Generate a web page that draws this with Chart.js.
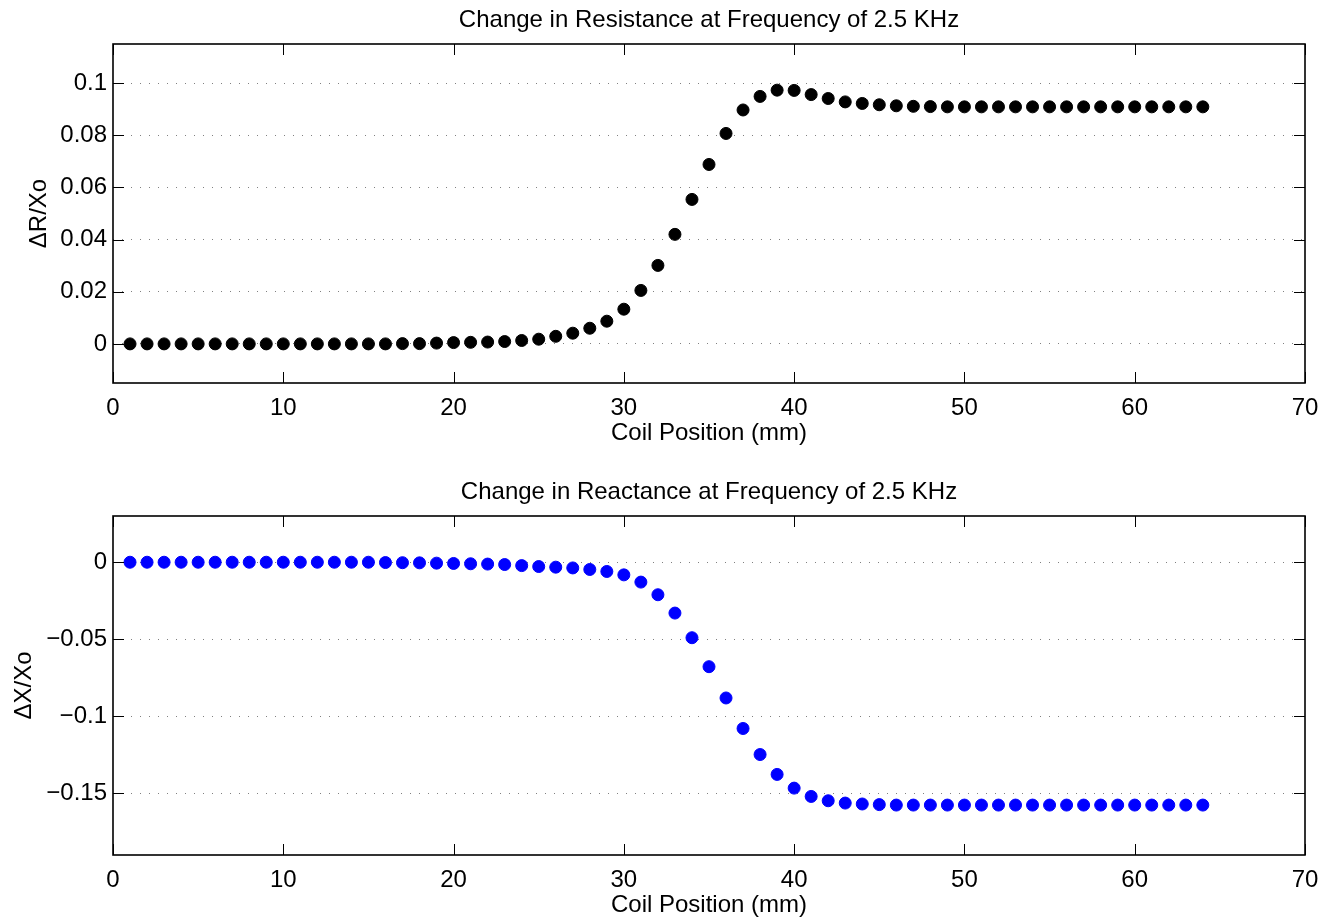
<!DOCTYPE html>
<html>
<head>
<meta charset="utf-8">
<script src="https://cdn.jsdelivr.net/npm/chart.js@4.4.1/dist/chart.umd.min.js"></script>
<style>
  html, body { margin: 0; background: #fff; overflow: hidden; }
  .panel { position: absolute; left: 0; width: 1333px; height: 452px; }
</style>
</head>
<body>
<div class="panel" style="top:0"><canvas id="resChart" width="1333" height="452"></canvas></div>
<div class="panel" style="top:472px"><canvas id="reaChart" width="1333" height="452"></canvas></div>
<script>
// coil positions (mm)
const positions = [1, 2, 3, 4, 5, 6, 7, 8, 9, 10, 11, 12, 13, 14, 15, 16,
  17, 18, 19, 20, 21, 22, 23, 24, 25, 26, 27, 28, 29, 30, 31, 32,
  33, 34, 35, 36, 37, 38, 39, 40, 41, 42, 43, 44, 45, 46, 47, 48,
  49, 50, 51, 52, 53, 54, 55, 56, 57, 58, 59, 60, 61, 62, 63, 64];

// ΔR/Xo
const resistance = [0, 0, 0, 0, 0, 0, 0, 0, 0, 0, 0, 0, 0, 0, 0, 0,
  0.0001, 0.0001, 0.0003, 0.0005, 0.0006, 0.0007, 0.0009, 0.0013,
  0.0018, 0.0029, 0.0041, 0.0060, 0.0087, 0.0133, 0.0205, 0.0301,
  0.0420, 0.0554, 0.0688, 0.0807, 0.0897, 0.0949, 0.0973, 0.0972,
  0.0956, 0.0941, 0.0928, 0.0922, 0.0917, 0.0913, 0.0911, 0.0910,
  0.0909, 0.0909, 0.0909, 0.0909, 0.0909, 0.0909, 0.0909, 0.0909,
  0.0909, 0.0909, 0.0909, 0.0909, 0.0909, 0.0909, 0.0909, 0.0909];

// ΔX/Xo
const reactance = [0, 0, 0, 0, 0, 0, 0, 0, 0, 0, 0, 0, 0, 0, 0, -0.0002,
  -0.0003, -0.0004, -0.0006, -0.0008, -0.0010, -0.0012, -0.0015, -0.0022,
  -0.0028, -0.0032, -0.0037, -0.0047, -0.0060, -0.0082, -0.0129, -0.0211,
  -0.0330, -0.0490, -0.0678, -0.0881, -0.1079, -0.1248, -0.1377, -0.1466,
  -0.1520, -0.1548, -0.1563, -0.1569, -0.1573, -0.1576, -0.1576, -0.1576,
  -0.1576, -0.1576, -0.1576, -0.1576, -0.1576, -0.1576, -0.1576, -0.1576,
  -0.1576, -0.1576, -0.1576, -0.1576, -0.1576, -0.1576, -0.1576, -0.1576];

const xTicks = [0, 10, 20, 30, 40, 50, 60, 70];
const resTicks = [0, 0.02, 0.04, 0.06, 0.08, 0.1];
const reaTicks = [-0.15, -0.1, -0.05, 0];

const FONT = { family: "'Liberation Sans', Arial, Helvetica, sans-serif", size: 24 };

// MATLAB-ish box with inward tick marks on all four sides
const boxTicks = {
  id: 'boxTicks',
  afterDatasetsDraw(chart) {
    const { ctx, chartArea: a, scales } = chart;
    const len = 11;
    ctx.save();
    ctx.strokeStyle = '#000';
    ctx.lineWidth = 1;
    ctx.beginPath();
    scales.x.ticks.forEach(t => {
      const px = Math.round(scales.x.getPixelForValue(t.value)) + 0.5;
      ctx.moveTo(px, a.bottom); ctx.lineTo(px, a.bottom - len);
      ctx.moveTo(px, a.top); ctx.lineTo(px, a.top + len);
    });
    scales.y.ticks.forEach(t => {
      const py = Math.round(scales.y.getPixelForValue(t.value)) + 0.5;
      ctx.moveTo(a.left, py); ctx.lineTo(a.left + len, py);
      ctx.moveTo(a.right, py); ctx.lineTo(a.right - len, py);
    });
    ctx.stroke();
    ctx.lineWidth = 1.6;
    ctx.strokeRect(a.left, a.top, a.right - a.left, a.bottom - a.top);
    ctx.restore();
  }
};

const fmt = v => String(v).replace('-', '\u2212');

function makeChart(id, values, color, yTicks, yMin, yMax, title, yTitle, yTitlePad) {
  return new Chart(document.getElementById(id), {
    type: 'scatter',
    data: {
      datasets: [{
        data: positions.map((p, i) => ({ x: p, y: values[i] })),
        backgroundColor: color,
        borderColor: color,
        pointRadius: 6,
        pointBorderWidth: 1,
        pointHoverRadius: 6
      }]
    },
    options: {
      responsive: false,
      animation: false,
      devicePixelRatio: 1,
      layout: { padding: { left: 0, right: 28, top: 0, bottom: 0 } },
      plugins: { legend: { display: false }, tooltip: { enabled: false } },
      scales: {
        x: {
          type: 'linear', position: 'bottom', min: 0, max: 70,
          afterBuildTicks: s => { s.ticks = xTicks.map(v => ({ value: v })); },
          afterFit: s => { s.height = 69; },
          grid: { display: false, drawTicks: false },
          border: { display: false },
          ticks: { font: FONT, color: '#000', padding: 10.5, maxRotation: 0 },
          title: { display: true, text: 'Coil Position (mm)', font: FONT, color: '#000', padding: { top: 0, bottom: 4 } }
        },
        x2: {
          type: 'linear', position: 'top', min: 0, max: 70,
          afterFit: s => { s.height = 44; },
          grid: { display: false, drawTicks: false },
          border: { display: false },
          ticks: { display: false },
          title: { display: true, text: title, font: FONT, color: '#000', padding: { top: 5.5, bottom: 0 } }
        },
        y: {
          type: 'linear', min: yMin, max: yMax,
          afterBuildTicks: s => { s.ticks = yTicks.map(v => ({ value: v })); },
          afterFit: s => { s.width = 113; },
          grid: { color: '#808080', lineWidth: 1, drawTicks: false },
          border: { display: false, dash: [1, 8] },
          ticks: { font: FONT, color: '#000', padding: 6, callback: v => fmt(v) },
          title: { display: true, text: yTitle, font: FONT, color: '#000', padding: { top: yTitlePad, bottom: 0 } }
        }
      }
    },
    plugins: [boxTicks]
  });
}

makeChart('resChart', resistance, '#000000', resTicks, -0.015, 0.115,
  'Change in Resistance at Frequency of 2.5 KHz', '\u0394R/Xo', 24.5);
makeChart('reaChart', reactance, '#0000ff', reaTicks, -0.19, 0.03,
  'Change in Reactance at Frequency of 2.5 KHz', '\u0394X/Xo', 10);
</script>
</body>
</html>
